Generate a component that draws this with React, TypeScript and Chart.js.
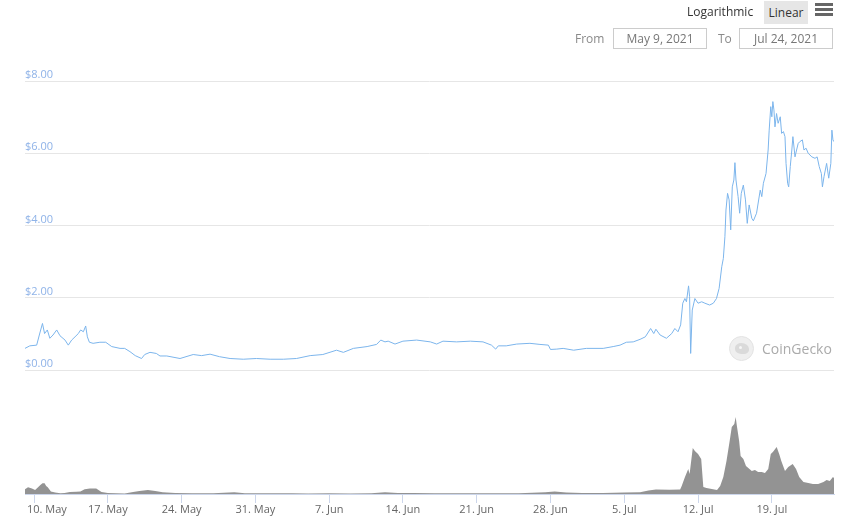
import React, { useEffect, useRef } from "react";
import { Chart, registerables } from "chart.js";

Chart.register(...registerables);

// x values are days since 9 May 2021 00:00
const priceDays = [
  0.14, 0.6, 1.25, 1.5, 1.8, 2.0, 2.26, 2.5, 2.8, 3.15, 3.46, 3.94, 4.25, 4.57, 4.89, 5.2, 5.42, 5.68, 5.9, 6.06,
  6.25, 6.6, 7.25, 7.8, 8.37, 9.16, 9.6, 10.1, 10.6, 11.2, 11.5, 12.0, 12.6, 12.95, 13.6, 14.85, 16.1, 16.9, 17.7, 18.6,
  19.6, 20.85, 22.1, 23.4, 24.65, 25.9, 27.2, 28.4, 29.7, 30.35, 31.3, 32.6, 33.5, 33.9, 34.3, 34.6, 35.25, 36.0, 37.3, 38.6,
  39.2, 39.8, 41.1, 42.4, 43.6, 44.4, 44.8, 45.05, 45.8, 46.8, 48.05, 49.0, 49.8, 50.0, 50.6, 51.2, 52.2, 53.4, 55.0, 55.95,
  56.6, 57.2, 57.85, 58.5, 59.0, 59.5, 59.8, 60.0, 60.4, 61.0, 61.5, 61.8, 62.1, 62.35, 62.55, 62.75, 62.9, 63.1, 63.2, 63.3,
  63.45, 63.7, 64.0, 64.35, 64.65, 65.1, 65.45, 65.75, 66.0, 66.25, 66.4, 66.55, 66.65, 66.8, 66.95, 67.1, 67.25, 67.4, 67.5, 67.6,
  67.8, 67.95, 68.1, 68.3, 68.5, 68.67, 68.85, 69.1, 69.25, 69.55, 69.9, 70.05, 70.2, 70.45, 70.65, 70.75, 70.9, 71.0, 71.1, 71.2,
  71.3, 71.45, 71.6, 71.8, 71.93, 72.1, 72.25, 72.35, 72.5, 72.6, 72.75, 72.9, 73.0, 73.2, 73.35, 73.5, 73.65, 73.9, 74.05, 74.25,
  74.45, 74.8, 75.1, 75.3, 75.5, 75.7, 75.8, 75.95, 76.2, 76.4, 76.6, 76.7, 76.8, 76.9,
];
const priceUsd = [
  0.6, 0.67, 0.69, 0.97, 1.29, 1.01, 1.11, 0.88, 0.97, 1.11, 0.95, 0.83, 0.69, 0.83, 0.92, 1.01, 1.11, 1.06, 1.22, 0.92,
  0.77, 0.74, 0.77, 0.77, 0.65, 0.6, 0.6, 0.51, 0.4, 0.32, 0.43, 0.49, 0.46, 0.39, 0.39, 0.32, 0.43, 0.4, 0.44, 0.37,
  0.32, 0.3, 0.32, 0.3, 0.3, 0.32, 0.4, 0.43, 0.55, 0.49, 0.6, 0.65, 0.71, 0.83, 0.78, 0.8, 0.72, 0.8, 0.83, 0.78,
  0.72, 0.8, 0.78, 0.8, 0.78, 0.69, 0.58, 0.67, 0.67, 0.72, 0.74, 0.71, 0.69, 0.57, 0.58, 0.6, 0.55, 0.6, 0.6, 0.65,
  0.69, 0.77, 0.78, 0.85, 0.92, 1.15, 1.01, 1.13, 0.97, 0.88, 1.01, 1.15, 1.06, 1.25, 1.85, 1.98, 1.89, 2.33, 2.03, 0.46,
  1.66, 1.98, 1.85, 1.89, 1.85, 1.8, 1.85, 1.98, 2.26, 2.86, 3.09, 3.69, 4.43, 4.89, 4.71, 3.88, 5.07, 5.26, 5.74, 5.26,
  4.8, 4.34, 4.89, 5.12, 4.71, 4.06, 4.57, 4.2, 4.13, 4.34, 4.98, 4.8, 5.17, 5.44, 6.09, 6.64, 7.29, 7.01, 7.43, 7.2,
  6.73, 7.1, 6.83, 7.01, 6.55, 6.6, 6.46, 5.72, 5.17, 5.07, 5.63, 6.09, 6.46, 5.9, 6.09, 6.27, 6.32, 6.37, 6.09, 6.14,
  6.0, 5.9, 5.86, 5.9, 5.63, 5.44, 5.07, 5.35, 5.72, 5.31, 5.72, 6.64, 6.37, 6.32,
];

const volumeDays = [
  0.14, 0.43, 0.8, 1.1, 1.38, 1.6, 1.8, 2.0, 2.15, 2.3, 2.6, 3.0, 3.5, 3.9, 4.4, 5.0, 5.4, 5.8, 6.3, 6.9,
  7.4, 8.0, 9.6, 10.4, 11.0, 11.8, 12.5, 13.2, 14.4, 16.0, 18.0, 20.0, 21.0, 23.0, 25.5, 27.0, 29.0, 31.0, 33.0, 34.3,
  35.5, 37.0, 39.0, 41.0, 43.0, 45.0, 47.0, 49.5, 50.4, 51.5, 53.0, 55.0, 57.0, 58.5, 59.3, 60.0, 61.3, 62.3, 62.45, 62.76,
  63.07, 63.2, 63.5, 63.7, 64.0, 64.3, 64.5, 64.8, 65.3, 65.8, 66.1, 66.4, 66.7, 67.0, 67.2, 67.44, 67.57, 67.7, 67.9, 68.04,
  68.3, 68.55, 68.77, 69.1, 69.4, 69.7, 70.04, 70.35, 70.66, 70.9, 71.1, 71.46, 71.7, 71.9, 72.25, 72.56, 72.98, 73.3, 73.6, 74.0,
  74.46, 74.9, 75.4, 75.9, 76.2, 76.5, 76.8, 76.9,
];
// 24h volume, millions of USD
const volumeUsdM = [
  24, 34, 28, 20, 34, 45, 54, 54, 40, 34, 12, 7, 4, 5, 10, 11, 12, 24, 27, 27,
  10, 5, 2, 10, 15, 20, 15, 9, 5, 4, 4, 9, 4, 4, 4, 3, 4, 3, 4, 9,
  5, 5, 4, 4, 4, 4, 4, 9, 12, 7, 5, 5, 7, 9, 18, 22, 21, 23, 40, 85,
  125, 100, 230, 215, 200, 175, 35, 30, 25, 20, 40, 85, 165, 265, 335, 350, 385, 335, 265, 190,
  175, 140, 130, 115, 120, 110, 110, 105, 125, 200, 210, 235, 200, 165, 115, 135, 150, 125, 85, 60,
  55, 50, 50, 60, 70, 65, 85, 80,
];

const priceTickValues = [0, 2, 4, 6, 8];
const dateTickDays = [1, 8, 15, 22, 29, 36, 43, 50, 57, 64, 71];
const dateTickLabels = ["10. May", "17. May", "24. May", "31. May", "7. Jun", "14. Jun", "21. Jun", "28. Jun", "5. Jul", "12. Jul", "19. Jul"];
const rangeFrom = "May 9, 2021";
const rangeTo = "Jul 24, 2021";

const FONT = '"Open Sans", "Noto Sans", sans-serif';

export default function App() {
  const canvasRef = useRef<HTMLCanvasElement | null>(null);

  useEffect(() => {
    const canvas = canvasRef.current;
    if (!canvas) return;
    const chart = new Chart(canvas, {
      type: "line",
      data: {
        datasets: [
          {
            label: "Price",
            data: priceDays.map((d, i) => ({ x: d, y: priceUsd[i] })),
            yAxisID: "y",
            borderColor: "#7cb5ec",
            borderWidth: 1,
            pointRadius: 0,
            fill: false,
            tension: 0,
            order: 0,
          },
          {
            label: "Volume",
            data: volumeDays.map((d, i) => ({ x: d, y: volumeUsdM[i] })),
            yAxisID: "yv",
            borderColor: "#8f8f8f",
            borderWidth: 0,
            backgroundColor: "#939393",
            fill: "origin",
            pointRadius: 0,
            tension: 0,
            order: 1,
          },
        ],
      },
      options: {
        animation: false,
        responsive: false,
        devicePixelRatio: 1,
        layout: { padding: { left: 25, right: 15, top: 81, bottom: 0 } },
        plugins: { legend: { display: false }, tooltip: { enabled: false } },
        scales: {
          x: {
            type: "linear",
            position: "bottom",
            min: 0.142,
            max: 76.9,
            grid: { drawOnChartArea: false, drawTicks: true, tickLength: 9, color: "#ccd6eb" },
            border: { display: true, color: "#ccd6eb" },
            ticks: {
              autoSkip: false,
              maxRotation: 0,
              padding: 0,
              color: "#666666",
              font: { family: FONT, size: 11 },
              callback: (_v: any, i: number) => (i === 0 ? " ".repeat(9) : "") + dateTickLabels[i],
            },
            afterBuildTicks: (s: any) => {
              s.ticks = dateTickDays.map((v) => ({ value: v }));
            },
            afterFit: (s: any) => {
              s.height = 33;
            },
          },
          y: {
            type: "linear",
            position: "left",
            min: -3.43,
            max: 8,
            grid: { color: "#e6e6e6", drawTicks: false },
            border: { display: false },
            ticks: {
              mirror: true,
              padding: 0,
              labelOffset: -6,
              color: "#8fb3e8",
              font: { family: FONT, size: 11 },
              callback: (v: any) => "$" + Number(v).toFixed(2),
            },
            afterBuildTicks: (s: any) => {
              s.ticks = priceTickValues.map((v) => ({ value: v }));
            },
            afterFit: (s: any) => {
              s.width = 0;
            },
          },
          yv: {
            type: "linear",
            position: "right",
            min: 0,
            max: 2065,
            display: false,
            afterFit: (s: any) => {
              s.width = 0;
            },
          },
        },
      },
    } as any);
    return () => chart.destroy();
  }, []);

  const box: React.CSSProperties = {
    position: "absolute",
    top: 28,
    width: 94,
    height: 21,
    boxSizing: "border-box",
    border: "1px solid #cccccc",
    color: "#777777",
    fontSize: 12,
    lineHeight: "19px",
    textAlign: "center",
  };
  const bar: React.CSSProperties = {
    position: "absolute",
    left: 815,
    width: 18,
    height: 3,
    background: "#666666",
  };

  return (
    <div
      style={{
        position: "fixed",
        left: 0,
        top: 0,
        width: 849,
        height: 527,
        background: "#ffffff",
        fontFamily: FONT,
        overflow: "hidden",
      }}
    >
      <canvas ref={canvasRef} width={849} height={527} style={{ position: "absolute", left: 0, top: 0 }} />
      <div style={{ position: "absolute", left: 687, top: 2, fontSize: 12, lineHeight: "20px", color: "#333333" }}>Logarithmic</div>
      <div
        style={{
          position: "absolute",
          left: 764,
          top: 1,
          width: 44,
          height: 23,
          background: "#e6e6e6",
          fontSize: 12,
          lineHeight: "23px",
          textAlign: "center",
          color: "#333333",
        }}
      >
        Linear
      </div>
      <div style={{ ...bar, top: 3 }} />
      <div style={{ ...bar, top: 8 }} />
      <div style={{ ...bar, top: 13 }} />
      <div style={{ position: "absolute", left: 575, top: 28, fontSize: 12, lineHeight: "21px", color: "#8a8a8a" }}>From</div>
      <div style={{ ...box, left: 613 }}>{rangeFrom}</div>
      <div style={{ position: "absolute", left: 718, top: 28, fontSize: 12, lineHeight: "21px", color: "#8a8a8a" }}>To</div>
      <div style={{ ...box, left: 739 }}>{rangeTo}</div>
      <div
        style={{
          position: "absolute",
          left: 729,
          top: 336,
          width: 25,
          height: 25,
          boxSizing: "border-box",
          borderRadius: "50%",
          background: "#efefef",
          border: "1px solid #e3e3e3",
        }}
      >
        <div
          style={{
            position: "absolute",
            left: 5,
            top: 6,
            width: 14,
            height: 11,
            borderRadius: "50% 60% 40% 50%",
            background: "#dadada",
          }}
        />
        <div style={{ position: "absolute", left: 9, top: 9, width: 3, height: 3, borderRadius: "50%", background: "#f7f7f7" }} />
      </div>
      <div style={{ position: "absolute", left: 762, top: 339, fontSize: 14, lineHeight: "20px", color: "#ababab" }}>CoinGecko</div>
    </div>
  );
}
